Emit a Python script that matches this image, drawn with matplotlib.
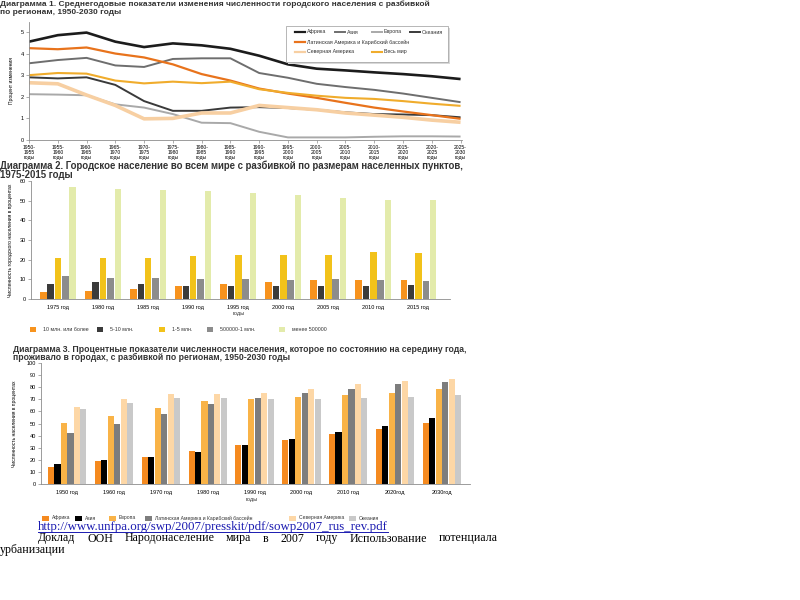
import matplotlib
matplotlib.use("Agg")
import matplotlib.pyplot as plt
import numpy as np
from matplotlib.patches import Rectangle
from matplotlib.lines import Line2D

W, H = 800, 600
plt.rcParams["font.family"] = ["Liberation Sans", "DejaVu Sans"]

# --- Диаграмма 1: average annual rate of change, %
period_starts = [1950, 1955, 1960, 1965, 1970, 1975, 1980, 1985,
                 1990, 1995, 2000, 2005, 2010, 2015, 2020, 2025]
africa = [4.55, 4.85, 4.97, 4.55, 4.30, 4.47, 4.38, 4.22, 3.90, 3.50, 3.30, 3.22, 3.13, 3.05, 2.95, 2.82]
asia = [3.55, 3.70, 3.80, 3.45, 3.38, 3.75, 3.78, 3.78, 3.10, 2.88, 2.60, 2.45, 2.32, 2.15, 1.95, 1.75]
europe = [2.12, 2.10, 2.07, 1.65, 1.50, 1.20, 0.80, 0.78, 0.38, 0.12, 0.12, 0.12, 0.15, 0.17, 0.17, 0.16]
oceania = [2.90, 2.85, 2.90, 2.55, 1.80, 1.35, 1.35, 1.50, 1.52, 1.48, 1.40, 1.28, 1.20, 1.18, 1.15, 1.05]
latam = [4.25, 4.20, 4.28, 4.00, 3.82, 3.50, 3.05, 2.75, 2.38, 2.15, 1.95, 1.72, 1.50, 1.32, 1.15, 0.98]
n_america = [2.65, 2.60, 2.08, 1.60, 0.98, 1.00, 1.25, 1.25, 1.60, 1.50, 1.40, 1.25, 1.15, 1.05, 0.92, 0.82]
world = [3.00, 3.10, 3.07, 2.75, 2.62, 2.70, 2.63, 2.70, 2.35, 2.18, 2.05, 1.95, 1.90, 1.80, 1.68, 1.58]

# --- Диаграмма 2: urban population by settlement size, %
years2 = ["1975 год", "1980 год", "1985 год", "1990 год", "1995 год",
          "2000 год", "2005 год", "2010 год", "2015 год"]
size_labels = ["10 млн. или более", "5-10 млн.", "1-5 млн.", "500000-1 млн.", "менее 500000"]
size_10m = [3.5, 4.2, 5.2, 6.4, 7.6, 8.4, 9.5, 9.5, 9.5]
size_5_10m = [7.8, 8.4, 7.8, 6.8, 6.4, 6.8, 6.4, 6.4, 7.2]
size_1_5m = [21.0, 21.0, 21.0, 22.0, 22.3, 22.6, 22.6, 24.0, 23.6]
size_05_1m = [11.5, 10.5, 10.5, 10.1, 10.1, 9.8, 10.1, 9.8, 9.1]
size_small = [56.8, 56.1, 55.4, 54.9, 54.0, 52.7, 51.5, 50.3, 50.3]

# --- Диаграмма 3: percent urban by region
years3 = ["1950 год", "1960 год", "1970 год", "1980 год", "1990 год",
          "2000 год", "2010 год", "2020год", "2030год"]
region_labels = ["Африка", "Азия", "Европа", "Латинская Америка и Карибский бассейн",
                 "Северная Америка", "Океания"]
urb_africa = [14.2, 18.6, 22.7, 27.4, 32.3, 36.4, 41.1, 45.8, 50.7]
urb_asia = [16.4, 20.0, 22.7, 26.3, 32.3, 37.0, 42.7, 48.0, 54.5]
urb_europe = [50.7, 56.4, 63.0, 68.5, 70.4, 71.8, 73.4, 75.6, 78.6]
urb_latam = [41.9, 49.3, 58.1, 65.8, 71.0, 75.6, 78.9, 82.5, 84.4]
urb_namerica = [63.8, 69.9, 74.0, 74.0, 75.6, 78.9, 82.5, 85.2, 87.1]
urb_oceania = [62.0, 66.6, 70.7, 70.7, 70.0, 70.0, 70.7, 72.0, 73.4]

source_url = "http://www.unfpa.org/swp/2007/presskit/pdf/sowp2007_rus_rev.pdf"
source_words = ["Доклад", "ООН", "Народонаселение", "мира", "в", "2007", "году", "Использование", "потенциала"]


def fx(x):
    return x / W


def fy(y):
    return 1 - y / H


def add_ax(left, top, right, bottom):
    ax = fig.add_axes([fx(left), fy(bottom), (right - left) / W, (bottom - top) / H])
    for s in ("top", "right"):
        ax.spines[s].set_visible(False)
    for s in ("left", "bottom"):
        ax.spines[s].set_color("#8c8c8c")
        ax.spines[s].set_linewidth(0.6)
    ax.tick_params(length=2, width=0.5, color="#8c8c8c", labelsize=4, pad=1.5)
    ax.patch.set_alpha(0)
    return ax


def title(x, y, s, size):
    fig.text(fx(x), fy(y), s, fontsize=size, fontweight="bold", color="#333333", va="center")


fig = plt.figure(figsize=(8, 6), dpi=100)
fig.patch.set_facecolor("white")

# ================= chart 1 =================
title(0, 4, "Диаграмма 1. Среднегодовые показатели изменения численности городского населения с разбивкой", 6.05)
title(0, 13, "по регионам, 1950-2030 годы", 6.05)

ax1 = add_ax(29, 22, 462, 140)
x1 = np.arange(len(period_starts))
series1 = [
    ("Африка", africa, "#1c1c1c", 1.9),
    ("Азия", asia, "#6e6e6e", 1.4),
    ("Европа", europe, "#a9a9a9", 1.4),
    ("Океания", oceania, "#3a3a3a", 1.4),
    ("Латинская Америка и Карибский бассейн", latam, "#e8731c", 1.6),
    ("Северная Америка", n_america, "#f7cfa2", 2.6),
    ("Весь мир", world, "#f0ac2c", 1.5),
]
for name, vals, col, lw in series1:
    ax1.plot(x1, vals, color=col, lw=lw, solid_capstyle="butt")
ax1.set_xlim(0, 15.05)
ax1.set_ylim(0, 5.46)
ax1.set_yticks(range(6))
ax1.set_xticks(x1)
ax1.set_xticklabels([f"{s}-\n{s + 5}\nгоды" for s in period_starts], fontsize=3.6, linespacing=1.05)
ax1.set_ylabel("Процент изменения", fontsize=3.6, labelpad=5)

# legend box of chart 1
fig.add_artist(Rectangle((fx(288), fy(64)), 162 / W, 36 / H, facecolor="#d8d8d8", edgecolor="none"))
fig.add_artist(Rectangle((fx(286), fy(62)), 162 / W, 36 / H, facecolor="white", edgecolor="#9a9a9a", lw=0.5))
leg_pos = [(295, 32), (335, 32), (372, 32), (410, 32), (295, 42), (295, 52), (372, 52)]
for (name, vals, col, lw), (lx, ly) in zip(series1, leg_pos):
    fig.add_artist(Line2D([fx(lx), fx(lx + 10)], [fy(ly), fy(ly)], color=col, lw=min(lw, 1.6)))
    fig.text(fx(lx + 12), fy(ly), name, fontsize=3.8, va="center", color="#333333")

# ================= chart 2 =================
title(0, 166, "Диаграмма 2. Городское население во всем мире с разбивкой по размерам населенных пунктов,", 6.9)
title(0, 175, "1975-2015 годы", 6.9)

ax2 = add_ax(31, 181, 450, 299)
x2 = np.arange(len(years2))
series2 = [size_10m, size_5_10m, size_1_5m, size_05_1m, size_small]
colors2 = ["#f7931e", "#3b3b3b", "#f2c21a", "#8c8c8c", "#e3ebab"]
for i, (vals, col) in enumerate(zip(series2, colors2)):
    ax2.bar(x2 + (i - 2) * 0.163, vals, width=0.145, color=col)
ax2.set_xlim(-0.6, 8.7)
ax2.set_ylim(0, 60)
ax2.set_yticks(range(0, 61, 10))
ax2.set_xticks(x2)
ax2.set_xticklabels(years2, fontsize=4)
ax2.tick_params(axis="x", length=0, pad=4)
ax2.set_ylabel("Численность городского населения в процентах", fontsize=3.6, labelpad=5)
fig.text(fx(239), fy(314), "годы", fontsize=4, ha="center", va="center", color="#333333")

leg2_x = [33, 100, 162, 210, 282]
for lx, lab, col in zip(leg2_x, size_labels, colors2):
    fig.add_artist(Rectangle((fx(lx - 3), fy(332)), 6 / W, 5 / H, facecolor=col, edgecolor="none"))
    fig.text(fx(lx + 10), fy(329.5), lab, fontsize=3.8, va="center", color="#333333")

# ================= chart 3 =================
title(13, 349, "Диаграмма 3. Процентные показатели численности населения, которое по состоянию на середину года,", 6.25)
title(13, 357.5, "проживало в городах, с разбивкой по регионам, 1950-2030 годы", 6.25)

ax3 = add_ax(41, 363, 470, 484)
x3 = np.arange(len(years3))
series3 = [urb_africa, urb_asia, urb_europe, urb_latam, urb_namerica, urb_oceania]
colors3 = ["#f58a1f", "#000000", "#f9b347", "#7d7d7d", "#fdd7a6", "#c9c9c9"]
for i, (vals, col) in enumerate(zip(series3, colors3)):
    ax3.bar(x3 + (i - 2.5) * 0.138, vals, width=0.13, color=col)
ax3.set_xlim(-0.56, 8.6)
ax3.set_ylim(0, 100)
ax3.set_yticks(range(0, 101, 10))
ax3.set_xticks(x3)
ax3.set_xticklabels(years3, fontsize=4)
ax3.tick_params(axis="x", length=0, pad=4)
ax3.set_ylabel("Численность населения в процентах", fontsize=3.6, labelpad=7)
fig.text(fx(252), fy(500), "годы", fontsize=4, ha="center", va="center", color="#333333")

leg3_x = [45, 78, 112, 148, 292, 352]
for lx, lab, col in zip(leg3_x, region_labels, colors3):
    fig.add_artist(Rectangle((fx(lx - 3), fy(520.5)), 7 / W, 5 / H, facecolor=col, edgecolor="none"))
    fig.text(fx(lx + 7), fy(518), lab, fontsize=3.6, va="center", color="#333333")

# ================= source text =================
fig.text(fx(38), fy(527), source_url, fontsize=9.3, family="Liberation Serif", color="#1a1ab0", va="center")
fig.add_artist(Line2D([fx(38), fx(388)], [fy(532), fy(532)], color="#1a1ab0", lw=0.7))

# justified line from x=38 to x=498
word_texts = [fig.text(0, fy(538.5), wd, fontsize=8.6, family="Liberation Serif", color="black", va="center")
              for wd in source_words]
fig.canvas.draw()
renderer = fig.canvas.get_renderer()
widths = [t.get_window_extent(renderer).width for t in word_texts]
gap = (498 - 38 - sum(widths)) / (len(widths) - 1)
xpos = 38
for t, w in zip(word_texts, widths):
    t.set_x(fx(xpos))
    xpos += w + gap
fig.text(fx(0), fy(550), "урбанизации", fontsize=8.6, family="Liberation Serif", color="black", va="center")

fig.savefig("out.png", dpi=100, facecolor="white")
